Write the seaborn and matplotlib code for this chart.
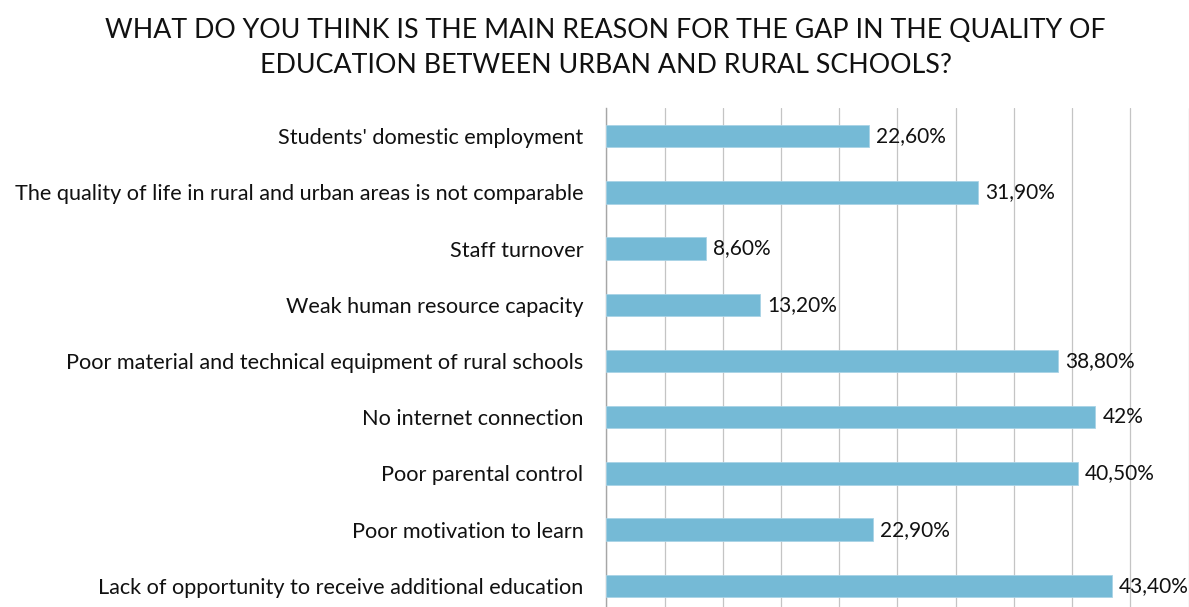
import matplotlib
matplotlib.use("Agg")
import matplotlib.pyplot as plt
import seaborn as sns
import numpy as np

# Survey answers, top to bottom
reasons = [
    "Students' domestic employment",
    "The quality of life in rural and urban areas is not comparable",
    "Staff turnover",
    "Weak human resource capacity",
    "Poor material and technical equipment of rural schools",
    "No internet connection",
    "Poor parental control",
    "Poor motivation to learn",
    "Lack of opportunity to receive additional education",
]
shares = [22.6, 31.9, 8.6, 13.2, 38.8, 42.0, 40.5, 22.9, 43.4]

title_lines = [
    "WHAT DO YOU THINK IS THE MAIN REASON FOR THE GAP IN THE QUALITY OF",
    "EDUCATION BETWEEN URBAN AND RURAL SCHOOLS?",
]

BAR = "#75bad6"
GRID = "#c4c4c4"
FONT = "Lato"
LABEL_SIZE = 15.6
VALUE_SIZE = 15.0

sns.set_style("white")
plt.rcParams["font.family"] = [FONT, "DejaVu Sans"]

W, H = 1189, 607
fig = plt.figure(figsize=(W / 100, H / 100), dpi=100)
left, right, top, bottom = 606.3, 1188.5, 108, 614
ax = fig.add_axes([left / W, 1 - bottom / H, (right - left) / W, (bottom - top) / H])

sns.barplot(x=shares, y=reasons, color=BAR, saturation=1, width=0.4, orient="h",
            edgecolor="#a9d3e6", linewidth=0.6, ax=ax, zorder=3)

ax.set_xlim(0, 50)
ax.set_ylim(len(reasons) - 0.5, -0.5)
ax.set_xticks(np.arange(0, 51, 5))
ax.xaxis.grid(True, color=GRID, linewidth=0.9, zorder=0)
ax.set_axisbelow(True)
ax.tick_params(axis="x", length=0, labelbottom=False)

ax.set_yticks(np.arange(-0.5, len(reasons), 1), minor=True)
ax.tick_params(axis="y", which="minor", length=6, color="#a6a6a6", width=1)
ax.tick_params(axis="y", which="major", length=0, pad=16.5,
               labelsize=LABEL_SIZE, labelcolor="#111111")
for s in ("top", "right", "bottom"):
    ax.spines[s].set_visible(False)
ax.spines["left"].set_color("#a6a6a6")
ax.spines["left"].set_linewidth(1.0)
ax.set_xlabel("")
ax.set_ylabel("")

def fmt(v):
    if float(v).is_integer():
        return f"{int(v)}%"
    return f"{v:.2f}".replace(".", ",") + "%"

for i, v in enumerate(shares):
    ax.annotate(fmt(v), xy=(v, i), xytext=(5, 0), textcoords="offset points",
                va="center", ha="left", fontsize=VALUE_SIZE, color="#111111",
                annotation_clip=False)

fig.text(605.5 / W, 1 - 37.7 / H, title_lines[0], ha="center", va="baseline",
         fontsize=19.3, color="#111111")
fig.text(605.5 / W, 1 - 73 / H, title_lines[1], ha="center", va="baseline",
         fontsize=19.3, color="#111111")

fig.savefig("out.png", dpi=100)
